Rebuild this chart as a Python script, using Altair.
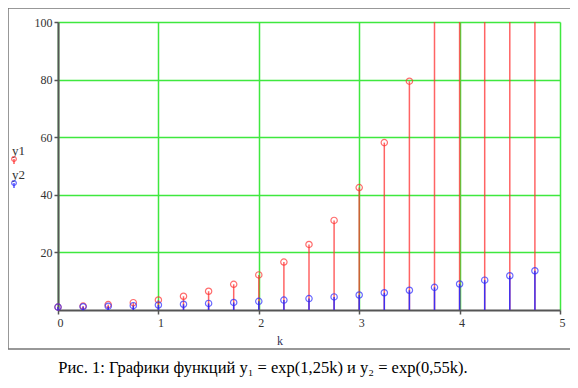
import altair as alt
import pandas as pd

# values
k_vals = [0, 0.25, 0.5, 0.75, 1, 1.25, 1.5, 1.75, 2, 2.25, 2.5, 2.75,
          3, 3.25, 3.5, 3.75, 4, 4.25, 4.5, 4.75]
y1_vals = [1.0, 1.37, 1.87, 2.55, 3.49, 4.77, 6.52, 8.92, 12.18, 16.65,
           22.76, 31.11, 42.52, 58.12, 79.44, 108.6, 148.4, 202.9, 277.3, 379.0]
y2_vals = [1.0, 1.15, 1.32, 1.51, 1.73, 1.99, 2.28, 2.62, 3.0, 3.45,
           3.96, 4.54, 5.21, 5.98, 6.86, 7.87, 9.03, 10.36, 11.89, 13.64]
x_ticks = [0, 1, 2, 3, 4, 5]
y_ticks = [20, 40, 60, 80, 100]
caption = "Рис. 1: Графики функций y₁ = exp(1,25k) и y₂ = exp(0,55k)."

df = pd.DataFrame({"k": k_vals, "y1": y1_vals, "y2": y2_vals, "zero": 0})

RED = "#ff3030"
BLUE = "#2a2aff"
SERIF = "Liberation Serif"

xs = alt.Scale(domain=[0, 5], nice=False, zero=False)
ys = alt.Scale(domain=[0, 100], nice=False, clamp=True)

x_enc = alt.X("k:Q", scale=xs, title=None,
              axis=alt.Axis(values=x_ticks, format="d", grid=True, labelAlign="left", labelOffset=-1))
base = alt.Chart(df)

stem1 = base.mark_rule(color=RED, strokeWidth=1.5, opacity=0.75).encode(
    x=x_enc,
    y=alt.Y("y1:Q", scale=ys, title=None,
            axis=alt.Axis(values=y_ticks, grid=True)),
    y2="zero:Q")
pt1 = base.mark_point(shape="circle", color=RED, size=40, strokeWidth=1.2,
                      filled=False).encode(
    x=alt.X("k:Q", scale=xs), y=alt.Y("y1:Q", scale=ys)
).transform_filter(alt.datum.y1 <= 100)
stem2 = base.mark_rule(color=BLUE, strokeWidth=1.5, opacity=0.9).encode(
    x=alt.X("k:Q", scale=xs), y=alt.Y("y2:Q", scale=ys), y2="zero:Q")
pt2 = base.mark_point(shape="circle", color=BLUE, size=40, strokeWidth=1.2,
                      filled=False).encode(
    x=alt.X("k:Q", scale=xs), y=alt.Y("y2:Q", scale=ys))

one = pd.DataFrame({"a": [0]})
frame = alt.Chart(one).mark_rect(fill=None, stroke="#777777", strokeWidth=1.5).encode(
    x=alt.value(-50), x2=alt.value(513), y=alt.value(-14), y2=alt.value(327))
ktitle = alt.Chart(one).mark_text(text="k", font=SERIF, fontSize=12, color="#333355").encode(
    x=alt.value(222), y=alt.value(319))
cap = alt.Chart(one).mark_text(text=caption, font=SERIF, fontSize=16.5, color="#000000").encode(
    x=alt.value(205), y=alt.value(346))
leg = pd.DataFrame({"lab": ["y1", "y2"], "ty": [129, 153], "sy": [137, 161],
                    "sy2": [142, 166], "col": [RED, BLUE]})
legtext = alt.Chart(leg).mark_text(font=SERIF, fontSize=13, align="left", color="#333").encode(
    x=alt.value(-46), y=alt.Y("ty:Q", scale=None), text="lab:N")
legpt = alt.Chart(leg).mark_point(shape="circle", size=22, filled=False, strokeWidth=1.2).encode(
    x=alt.value(-44), y=alt.Y("sy:Q", scale=None),
    color=alt.Color("col:N", scale=None))
legstem = alt.Chart(leg).mark_rule(strokeWidth=1.2).encode(
    x=alt.value(-44), y=alt.Y("sy:Q", scale=None), y2="sy2:Q",
    color=alt.Color("col:N", scale=None))

chart = alt.layer(frame, stem1, pt1, stem2, pt2, ktitle, cap, legtext, legstem, legpt).properties(
    width=502, height=288,
    autosize=alt.AutoSizeParams(type="none"),
    padding={"left": 50, "top": 14, "right": 10, "bottom": 70},
).configure_view(stroke=None).configure_axis(
    gridColor="#3fe83f", gridWidth=1.5, gridOpacity=1,
    domainColor="#555555", domainWidth=2,
    tickColor="#555555", tickSize=4, tickWidth=1.5,
    labelFont=SERIF, labelFontSize=12, labelColor="#333333",
).configure_axisX(labelPadding=3).configure_axisY(labelPadding=2)

chart.save("out.html", embed_options={"renderer": "svg", "actions": False})
